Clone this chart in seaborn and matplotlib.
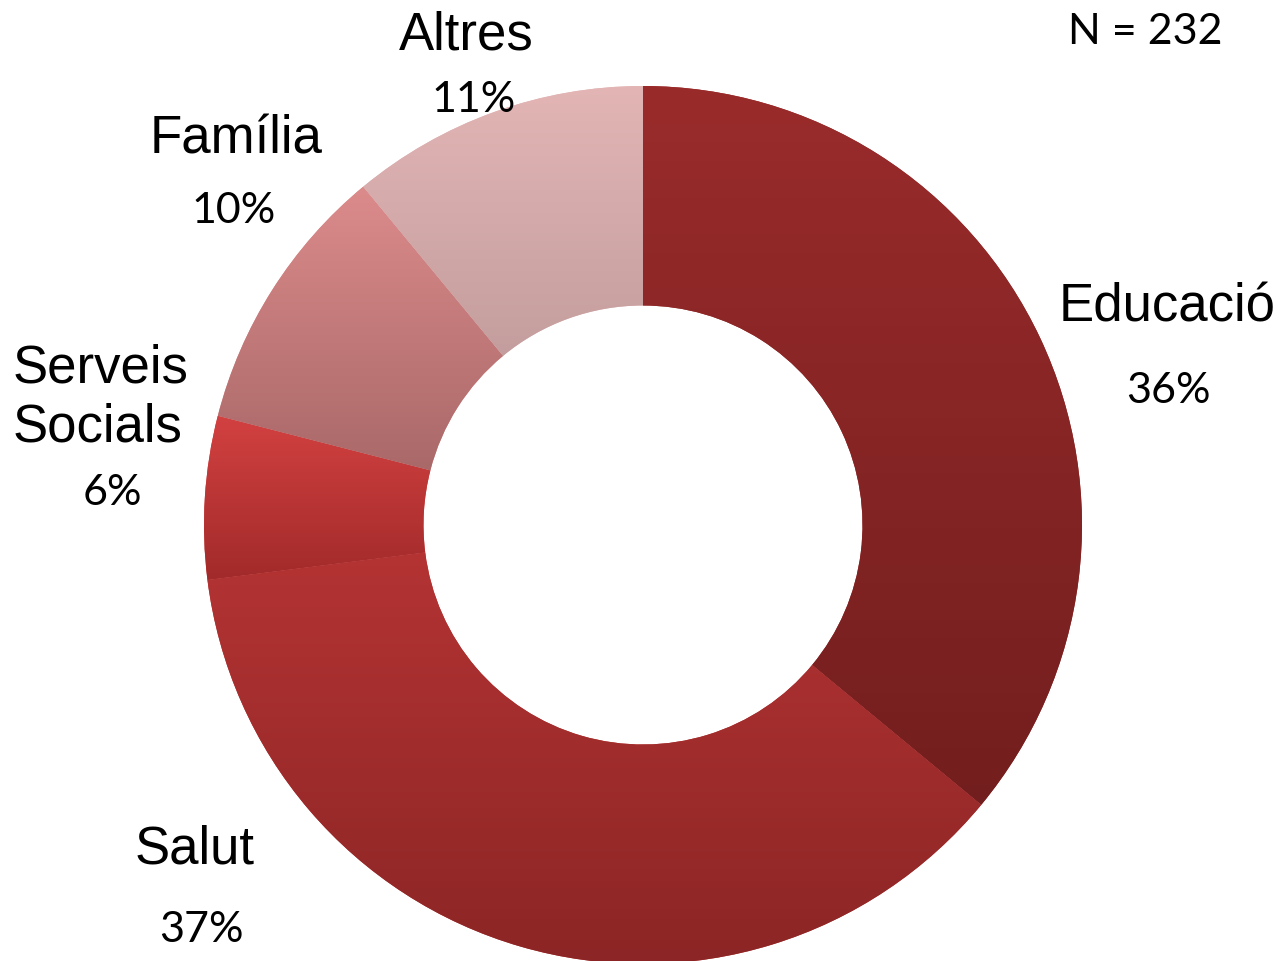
"""
Donut chart - distribution by area (N = 232)
"""

import numpy as np
import matplotlib
matplotlib.use("Agg")
import matplotlib.pyplot as plt
import seaborn as sns

# data
categories = ["Educació", "Salut", "Serveis\nSocials", "Família", "Altres"]
shares = [36, 37, 6, 10, 11]
n_total = 232

# gradient colours per slice (top, bottom)
top_colors = ["#9a2b2b", "#b73434", "#d34141", "#dc8b8b", "#e3b5b5"]
bottom_colors = ["#731e1e", "#8b2525", "#a22a2a", "#a06262", "#b08f8f"]

W, H = 1282, 961
CX, CY, R = 643, 525, 439


def fx(px):
    return px / W


def fy(py):
    return 1 - py / H


def main():
    sns.set_theme(style="white")
    fig = plt.figure(figsize=(W / 100, H / 100), dpi=100)
    ax = fig.add_axes([fx(CX - R), 1 - (CY + R) / H, 2 * R / W, 2 * R / H])

    wedges, _ = ax.pie(shares, startangle=90, counterclock=False, radius=1,
                       colors=top_colors,
                       wedgeprops=dict(width=0.5, linewidth=0))

    # vertical gradient inside every wedge
    for w, c_top, c_bot in zip(wedges, top_colors, bottom_colors):
        verts = w.get_path().vertices
        x0, x1 = verts[:, 0].min(), verts[:, 0].max()
        y0, y1 = verts[:, 1].min(), verts[:, 1].max()
        pal = np.array(sns.blend_palette([c_top, c_bot], 256))
        img = pal[:, None, :3]
        im = ax.imshow(img, extent=[x0, x1, y0, y1], origin="upper",
                       aspect="auto", interpolation="bilinear", zorder=2)
        im.set_clip_path(w)

    ax.set_xlim(-1, 1)
    ax.set_ylim(-1, 1)
    ax.set_axis_off()

    name_font = dict(family=["Liberation Sans", "DejaVu Sans"], fontsize=38,
                     color="black")
    pct_font = dict(family=["Lato", "DejaVu Sans"], fontsize=31, color="black")

    # label positions (pixels) for name and percentage
    name_pos = [(1167, 307), (195, 850), (13, 398), (236, 140), (466, 35)]
    pct_pos = [(1168, 391), (201, 930), (112, 493), (234, 211), (474, 100)]

    for cat, val, (nx, ny), (px, py) in zip(categories, shares, name_pos, pct_pos):
        if "\n" in cat:
            fig.text(fx(nx), fy(ny), cat, ha="left", va="center",
                     linespacing=1.25, **name_font)
        else:
            fig.text(fx(nx), fy(ny), cat, ha="center", va="center", **name_font)
        fig.text(fx(px), fy(py), f"{val}%", ha="center", va="center", **pct_font)

    fig.text(fx(1145), fy(32), f"N = {n_total}", ha="center", va="center", **pct_font)

    fig.savefig("out.png", dpi=100, facecolor="white")
    plt.close(fig)


if __name__ == "__main__":
    main()
